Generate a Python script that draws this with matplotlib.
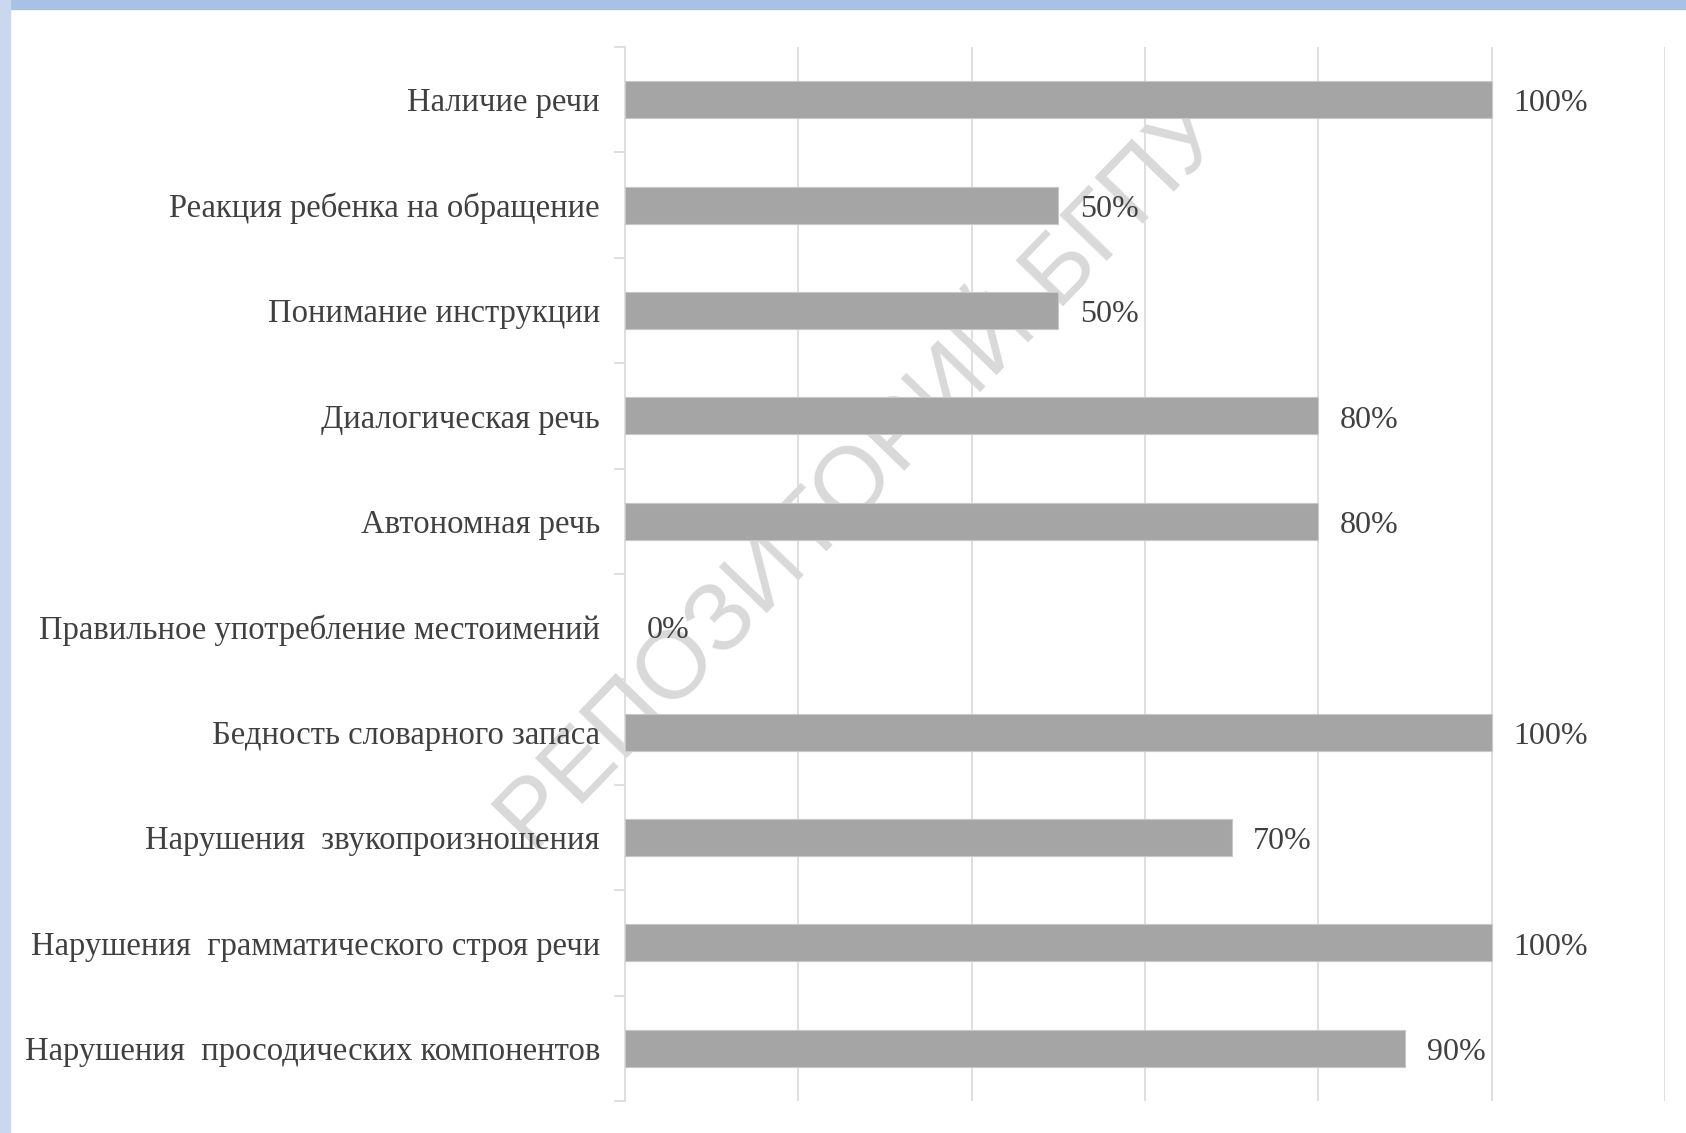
import matplotlib
matplotlib.use("Agg")
import matplotlib.pyplot as plt
from matplotlib.patches import Rectangle

categories = [
    "Наличие речи",
    "Реакция ребенка на обращение",
    "Понимание инструкции",
    "Диалогическая речь",
    "Автономная речь",
    "Правильное употребление местоимений",
    "Бедность словарного запаса",
    "Нарушения  звукопроизношения",
    "Нарушения  грамматического строя речи",
    "Нарушения  просодических компонентов",
]
values = [100, 50, 50, 80, 80, 0, 100, 70, 100, 90]
labels = ["100%", "50%", "50%", "80%", "80%", "0%", "100%", "70%", "100%", "90%"]

serif = ["Liberation Serif", "DejaVu Serif"]
text_color = "#404040"
grid_color = "#d9d9d9"

fig = plt.figure(figsize=(16.86, 11.33), dpi=100)
fig.patch.set_facecolor("white")

# blue frame of the slide
fig.add_artist(Rectangle((0, 1 - 9 / 1133), 1, 9 / 1133, transform=fig.transFigure,
                         color="#a9c1e6", zorder=5))
fig.add_artist(Rectangle((0, 0), 10 / 1686, 1, transform=fig.transFigure,
                         color="#cbd7ee", zorder=5))

ax = fig.add_axes([625 / 1686, 32 / 1133, 1040 / 1686, 1054 / 1133])
ax.set_facecolor("none")

y = list(range(len(categories)))
ax.barh(y, values, height=0.35, color="#a5a5a5", edgecolor="#c8c8c8",
        linewidth=[0.8 if v else 0 for v in values], zorder=3)

for yi, v, lab in zip(y, values, labels):
    ax.text(v + 2.5, yi + 0.04, lab, va="center", ha="left", fontsize=23,
            family=serif, color=text_color, zorder=4)

ax.set_xlim(0, 120)
ax.set_ylim(len(categories) - 0.5, -0.5)
ax.set_xticks([20, 40, 60, 80, 100, 120])
ax.xaxis.grid(True, color=grid_color, linewidth=1.2, zorder=0)
ax.tick_params(axis="x", length=0, labelbottom=False)

ax.set_yticks(y)
ax.set_yticklabels(categories, family=serif, fontsize=23.5, color=text_color)
ax.set_yticks([i - 0.5 for i in range(len(categories) + 1)], minor=True)
ax.tick_params(axis="y", which="major", length=0, pad=18)
ax.tick_params(axis="y", which="minor", length=8, color=grid_color, width=1.2)

for s in ["top", "right", "bottom"]:
    ax.spines[s].set_visible(False)
ax.spines["left"].set_color(grid_color)
ax.spines["left"].set_linewidth(1.2)

# watermark (behind the bars)
fig.text(0.512, 0.578, "РЕПОЗИТОРИЙ БГПУ", rotation=46, ha="center", va="center",
         fontsize=69, family=["Liberation Sans", "DejaVu Sans"], color="#d9d9d9",
         zorder=-1)

fig.savefig("out.png", dpi=100, facecolor="white")
